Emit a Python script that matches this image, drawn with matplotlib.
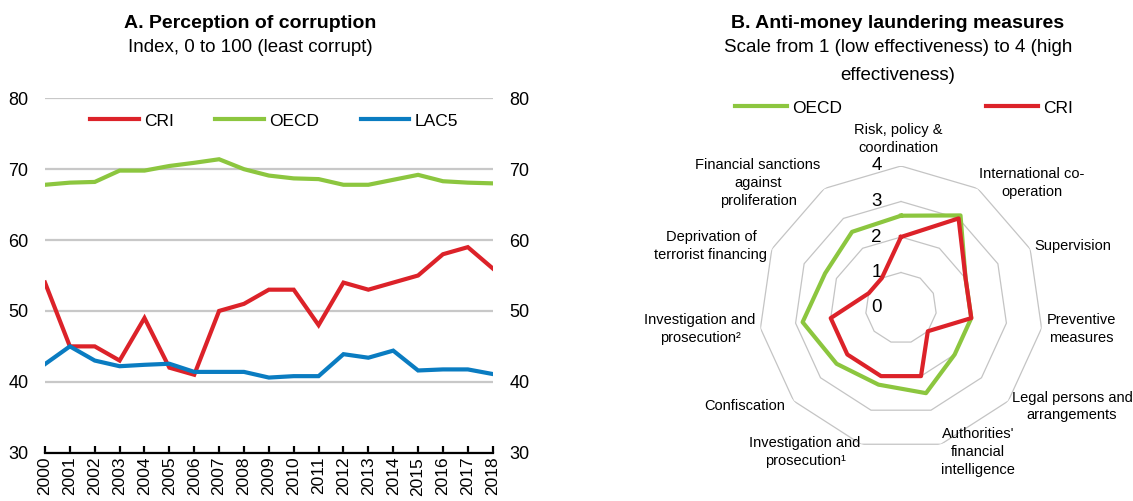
import numpy as np
import matplotlib
matplotlib.use("Agg")
import matplotlib.pyplot as plt
from matplotlib.lines import Line2D

plt.rcParams["font.family"] = ["Liberation Sans Narrow", "Liberation Sans", "DejaVu Sans"]

RED = "#DC2229"
GREEN = "#8CC63F"
BLUE = "#0A7CC1"
GRID = "#C8C8C8"

# Panel A: corruption perception index, 2000-2018
YEARS = list(range(2000, 2019))
CRI_CPI = [54, 45, 45, 43, 49, 42, 41, 50, 51, 53, 53, 48, 54, 53, 54, 55, 58, 59, 56]
OECD_CPI = [67.8, 68.1, 68.2, 69.8, 69.8, 70.45, 70.9, 71.4, 70.0, 69.1, 68.7, 68.6,
            67.8, 67.8, 68.5, 69.2, 68.3, 68.1, 68.0]
LAC5_CPI = [42.5, 45.0, 43.0, 42.2, 42.4, 42.55, 41.4, 41.4, 41.4, 40.6, 40.8, 40.8,
            43.9, 43.4, 44.4, 41.6, 41.75, 41.75, 41.1]

# Panel B: FATF immediate outcomes, clockwise from the top
AML_CATEGORIES = [
    "Risk, policy &\ncoordination",
    "International co-\noperation",
    "Supervision",
    "Preventive\nmeasures",
    "Legal persons and\narrangements",
    "Authorities'\nfinancial\nintelligence",
    "Investigation and\nprosecution\u00b9",
    "Confiscation",
    "Investigation and\nprosecution\u00b2",
    "Deprivation of\nterrorist financing",
    "Financial sanctions\nagainst\nproliferation",
]
AML_OECD = [2.6, 3.1, 2.0, 2.0, 2.0, 2.5, 2.25, 2.4, 2.8, 2.35, 2.55]
AML_CRI = [2, 3, 2, 2, 1, 2, 2, 2, 2, 1, 1]
AML_LEVELS = [0, 1, 2, 3, 4]

W, H = 1133, 501
fig = plt.figure(figsize=(W / 100, H / 100), dpi=100)


def px_box(x0, y0, x1, y1):
    """Axes rectangle from pixel corners (top-left origin)."""
    return [x0 / W, 1 - y1 / H, (x1 - x0) / W, (y1 - y0) / H]


# ---- Panel A -------------------------------------------------------------
ax = fig.add_axes(px_box(45, 98.3, 492.7, 452.7))
ax.plot(YEARS, CRI_CPI, color=RED, lw=3, label="CRI", solid_joinstyle="miter")
ax.plot(YEARS, OECD_CPI, color=GREEN, lw=3, label="OECD", solid_joinstyle="miter")
ax.plot(YEARS, LAC5_CPI, color=BLUE, lw=3, label="LAC5", solid_joinstyle="miter")
ax.set_xlim(2000, 2018)
ax.set_ylim(30, 80)
ax.set_yticks([30, 40, 50, 60, 70, 80])
ax.set_xticks(YEARS)
ax.set_xticklabels([str(y) for y in YEARS], rotation=90, fontsize=12.5)
ax.grid(axis="y", color=GRID, lw=1.6)
ax.set_axisbelow(True)
for side in ("top", "left", "right"):
    ax.spines[side].set_visible(False)
ax.spines["bottom"].set_linewidth(1.6)
ax.tick_params(axis="x", direction="in", length=5, width=1.6, pad=3)
ax.tick_params(axis="y", length=0, labelsize=13, labelright=True, pad=12)

fig.legend(handles=ax.get_lines(), loc="center", bbox_to_anchor=(274 / W, 1 - 121 / H),
           ncol=3, frameon=False, fontsize=12.5, handlelength=2.8, handletextpad=0.3,
           columnspacing=2.4)

fig.text(250 / W, 1 - 24 / H, "A. Perception of corruption", ha="center", va="center",
         fontsize=14, fontweight="bold")
fig.text(250 / W, 1 - 48 / H, "Index, 0 to 100 (least corrupt)", ha="center",
         va="center", fontsize=13.5)

# ---- Panel B -------------------------------------------------------------
cx, cy, rad = 901, 308, 142
pax = fig.add_axes(px_box(cx - rad, cy - rad, cx + rad, cy + rad), projection="polar")
pax.set_theta_zero_location("N")
pax.set_theta_direction(-1)
pax.set_ylim(0, 4)
pax.grid(False)
pax.spines["polar"].set_visible(False)
pax.set_xticks([])
pax.set_yticks([])
pax.patch.set_alpha(0)

n = len(AML_CATEGORIES)
angles = np.linspace(0, 2 * np.pi, n, endpoint=False)
closed = np.append(angles, angles[0])
for lvl in AML_LEVELS[1:]:
    pax.plot(closed, [lvl] * (n + 1), color="#C4C4C4", lw=0.9, zorder=1)

oecd_line, = pax.plot(closed, AML_OECD + AML_OECD[:1], color=GREEN, lw=3, zorder=3)
cri_line, = pax.plot(closed, AML_CRI + AML_CRI[:1], color=RED, lw=3, zorder=4)

for lvl in AML_LEVELS:
    pax.annotate(str(lvl), xy=(0, lvl), xytext=(-17.5, 0), textcoords="offset points",
                 ha="center", va="center", fontsize=13.5, annotation_clip=False)

label_pos = [(898, 139), (1032, 183), (1073, 246), (1081, 329), (1072, 406.5),
             (978, 452), (805, 452), (745, 406), (700, 329), (711, 246), (758, 183)]
for text, (lx, ly) in zip(AML_CATEGORIES, label_pos):
    fig.text(lx / W, 1 - ly / H, text, ha="center", va="center", fontsize=10.5,
             linespacing=1.35)

fig.legend(handles=[Line2D([], [], color=GREEN, lw=3), Line2D([], [], color=RED, lw=3)],
           labels=["OECD", "CRI"], loc="center", bbox_to_anchor=(904 / W, 1 - 108 / H),
           ncol=2, frameon=False, fontsize=12.5, handlelength=3.0, handletextpad=0.3,
           columnspacing=8.3)

fig.text(898 / W, 1 - 24 / H, "B. Anti-money laundering measures", ha="center",
         va="center", fontsize=14, fontweight="bold")
fig.text(898 / W, 1 - 48 / H, "Scale from 1 (low effectiveness) to 4 (high", ha="center",
         va="center", fontsize=13.5)
fig.text(898 / W, 1 - 75 / H, "effectiveness)", ha="center", va="center", fontsize=13.5)

fig.savefig("out.png", dpi=100)
